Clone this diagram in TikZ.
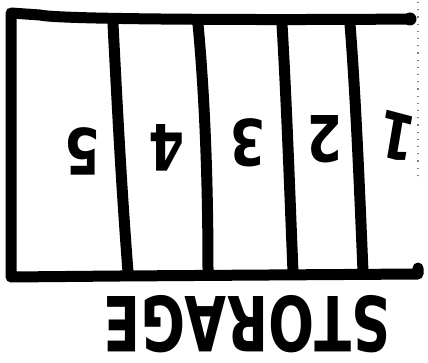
\documentclass[tikz,border=0pt]{standalone}
\usepackage{fontspec}
\setmainfont{DejaVu Sans}
\begin{document}
\begin{tikzpicture}[x=1pt,y=-1pt,
  ink/.style={line width=11pt, line cap=round, line join=round},
  digit/.style={rotate=180, xscale=0.8, inner sep=0pt, font={\bfseries\fontsize{64}{64}\selectfont}},
  label/.style={rotate=180, xscale=0.71, inner sep=0pt, font={\bfseries\fontsize{76}{76}\selectfont}}]
\useasboundingbox (0,0) rectangle (428,363);
% corners
\coordinate (tl) at (11,13);
\coordinate (tr) at (410,19);
\coordinate (bl) at (11,277);
\coordinate (br) at (418,274);
% frame
\draw[ink] (tr) .. controls (300,20) and (60,20) .. (40,15) -- (tl) -- (bl) -- (120,276) -- (br) -- (418,268);
\fill (tr) circle (6.5pt);
% dividers
\coordinate (d1t) at (113,24); \coordinate (d1b) at (128,272);
\coordinate (d2t) at (198,24); \coordinate (d2b) at (208,272);
\coordinate (d3t) at (282,24); \coordinate (d3b) at (293,272);
\coordinate (d4t) at (350,24); \coordinate (d4b) at (363,272);
\draw[ink] (d1t) .. controls (118,120) and (121,180) .. (d1b);
\draw[ink] (d2t) .. controls (206,110) and (208,200) .. (d2b);
\draw[ink] (d3t) .. controls (287,110) and (290,200) .. (d3b);
\draw[ink] (d4t) .. controls (356,100) and (360,200) .. (d4b);
% scan artifact
\draw[gray, line width=1.2pt, dash pattern=on 1.2pt off 6pt] (418,2) -- (418,182);
% numbers (upside down)
\node[digit] (n5) at (83,151) {5};
\node[digit] (n4) at (167,148) {4};
\node[digit] (n3) at (248,143) {3};
\node[digit] (n2) at (325,139) {2};
\node[digit, rotate=-12] (n1) at (397,137) {1};
% label
\node[label] (storage) at (247,324) {STORAGE};
\end{tikzpicture}
\end{document}
